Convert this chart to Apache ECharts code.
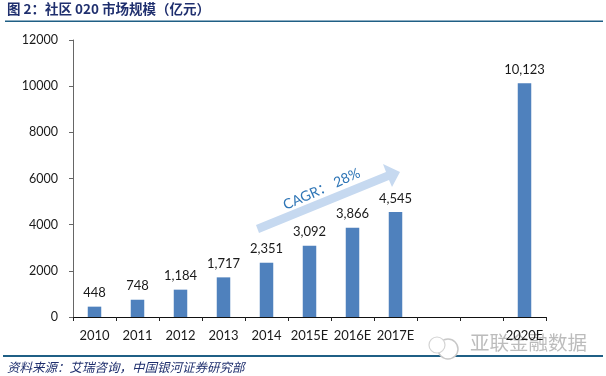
<!DOCTYPE html>
<html>
<head>
<meta charset="utf-8">
<style>html,body{margin:0;padding:0;background:#fff}#chart{width:606px;height:376px}</style>
<script src="https://cdn.jsdelivr.net/npm/echarts@6/dist/echarts.min.js"></script>
</head>
<body>
<div id="chart"></div>
<script>
const categories = ['2010','2011','2012','2013','2014','2015E','2016E','2017E','','','2020E'];
const values = [448,748,1184,1717,2351,3092,3866,4545,null,null,10123];
const barLabels = ['448','748','1,184','1,717','2,351','3,092','3,866','4,545','','','10,123'];
const titleText = '图 2：社区 020 市场规模（亿元）';
const sourceText = '资料来源：艾瑞咨询，中国银河证券研究部';
const cagrText = 'CAGR： 28%';
const watermarkText = '亚联金融数据';

const latin = 'Lato, "Noto Sans", "Noto Sans CJK SC", sans-serif';
const chart = echarts.init(document.getElementById('chart'));

chart.setOption({
  animation: false,
  backgroundColor: '#fff',
  grid: { left: 73, right: 60, top: 40, bottom: 59 },
  xAxis: {
    type: 'category',
    data: categories,
    axisLine: { lineStyle: { color: '#111', width: 1 } },
    axisTick: { show: true, length: 4, interval: 0, lineStyle: { color: '#222' } },
    axisLabel: { interval: 0, color: '#1a1a1a', fontSize: 13, fontFamily: latin, margin: 12 }
  },
  yAxis: {
    type: 'value',
    min: 0,
    max: 12000,
    interval: 2000,
    splitLine: { show: false },
    axisLine: { show: true, lineStyle: { color: '#666', width: 1 } },
    axisTick: { show: true, length: 4, lineStyle: { color: '#666' } },
    axisLabel: { color: '#1a1a1a', fontSize: 12.5, fontFamily: latin, margin: 15, formatter: (v) => String(v) }
  },
  series: [{
    type: 'bar',
    data: values,
    barWidth: 13.5,
    itemStyle: { color: '#4f81bd' },
    label: {
      show: true,
      position: 'top',
      distance: 7,
      color: '#1a1a1a',
      fontSize: 13,
      fontFamily: latin,
      formatter: (p) => barLabels[p.dataIndex]
    }
  }],
  graphic: [
    // titulo y lineas de cabecera / pie
    { type: 'text', left: 7, top: 2, style: { text: titleText, fill: '#1f2f6e', font: 'bold 13.5px "Noto Sans CJK SC", sans-serif' } },
    { type: 'rect', shape: { x: 5, y: 20.5, width: 598, height: 1.5 }, style: { fill: '#1f5f85' } },
    { type: 'rect', shape: { x: 3, y: 355, width: 600, height: 2 }, style: { fill: '#1f5f85' } },
    { type: 'text', left: 7, top: 361, style: { text: sourceText, fill: '#1f2f6e', font: 'italic 12.5px "Noto Sans CJK SC", sans-serif' } },
    // flecha CAGR
    {
      type: 'polygon',
      shape: { points: [[256,225],[386,172],[383,164],[400,172],[392,187],[389,180],[259,233]] },
      style: { fill: '#c6d9f0' }
    },
    {
      type: 'text',
      x: 284, y: 206,
      rotation: 0.42,
      style: { text: cagrText, fill: '#2e75b6', font: '14px ' + latin, textVerticalAlign: 'middle' },
      originX: 0, originY: 0
    },
    // marca de agua
    { type: 'circle', shape: { cx: 448, cy: 349, r: 10 }, style: { fill: '#fff', stroke: '#c8c8c8', lineWidth: 1.5 } },
    { type: 'circle', shape: { cx: 437, cy: 345, r: 8 }, style: { fill: '#fff', stroke: '#d4d4d4', lineWidth: 1.2 } },
    { type: 'text', left: 470, top: 333, style: { text: watermarkText, fill: 'rgba(165,165,165,0.75)', font: '19.5px "Noto Sans CJK SC", sans-serif' } }
  ]
});
</script>
</body>
</html>
